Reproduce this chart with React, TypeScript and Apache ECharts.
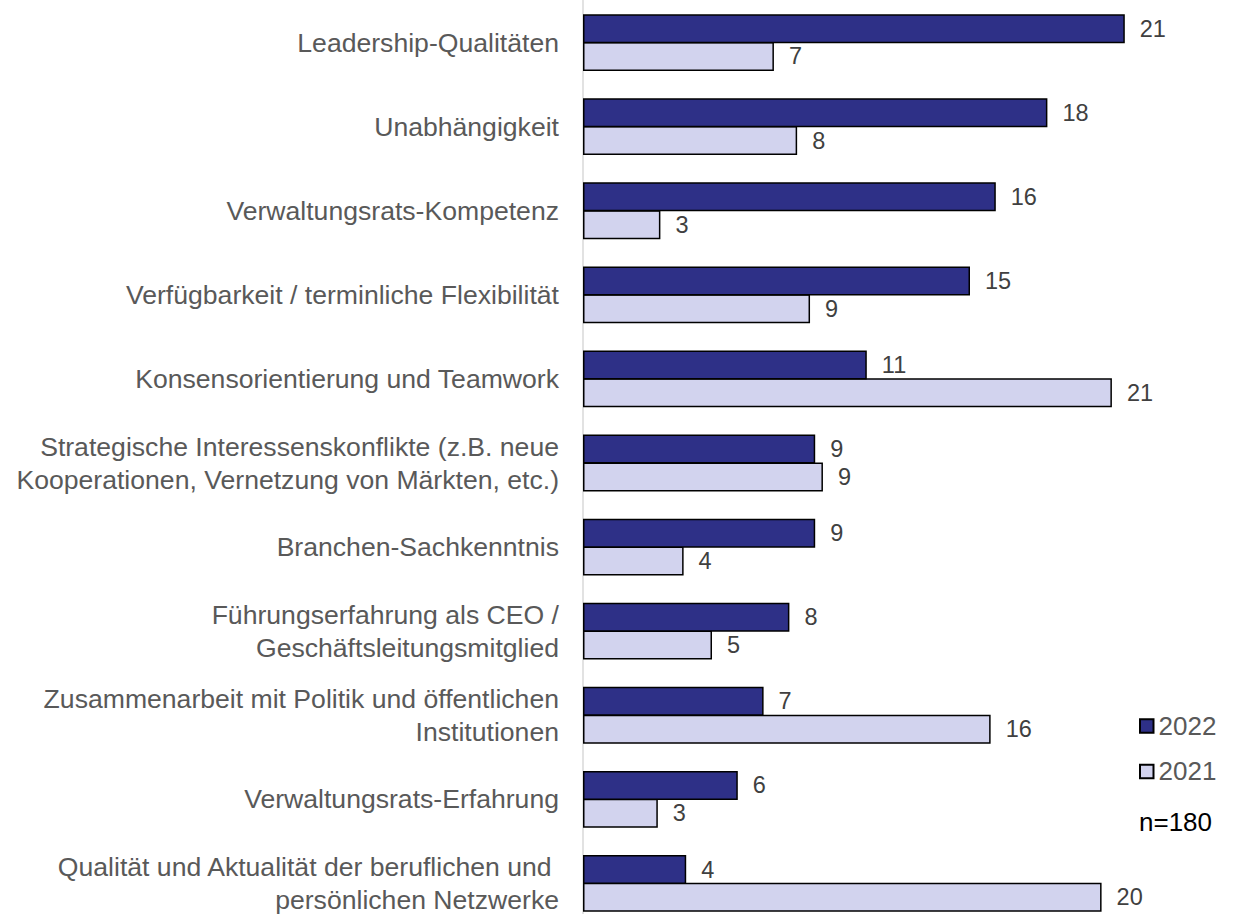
import React, { useEffect, useRef } from "react";
import * as echarts from "echarts";

const categories = [
  "Leadership-Qualitäten",
  "Unabhängigkeit",
  "Verwaltungsrats-Kompetenz",
  "Verfügbarkeit / terminliche Flexibilität",
  "Konsensorientierung und Teamwork",
  "Strategische Interessenskonflikte (z.B. neue\nKooperationen, Vernetzung von Märkten, etc.)",
  "Branchen-Sachkenntnis",
  "Führungserfahrung als CEO /\nGeschäftsleitungsmitglied",
  "Zusammenarbeit mit Politik und öffentlichen\nInstitutionen",
  "Verwaltungsrats-Erfahrung",
  "Qualität und Aktualität der beruflichen und \npersönlichen Netzwerke",
];
const values2022 = [21, 18, 16, 15, 11, 9, 9, 8, 7, 6, 4];
const values2021 = [7.4, 8.3, 3.0, 8.8, 20.5, 9.3, 3.9, 5.0, 15.8, 2.9, 20.1];
const seriesNames = ["2022", "2021"];
const noteText = "n=180";

export default function App() {
  const ref = useRef<HTMLDivElement>(null);
  useEffect(() => {
    if (!ref.current) return;
    const chart = echarts.init(ref.current, undefined, { renderer: "svg" });
    const fontFamily = "'Liberation Sans', Arial, sans-serif";
    const labelCfg = {
      show: true,
      position: "right" as const,
      distance: 15,
      fontSize: 23.5,
      color: "#404040",
      fontFamily,
      formatter: (p: any) => String(Math.round(p.value)),
    };
    chart.setOption({
      animation: false,
      textStyle: { fontFamily },
      grid: { left: 583, top: 0.5, width: 645, height: 925, containLabel: false },
      xAxis: {
        type: "value",
        min: 0,
        max: 25,
        show: false,
        splitLine: { show: false },
      },
      yAxis: {
        type: "category",
        data: categories,
        inverse: true,
        axisTick: { show: false },
        axisLine: { show: true, lineStyle: { color: "#D9D9D9", width: 1.5 } },
        axisLabel: {
          fontSize: 26.6,
          lineHeight: 33,
          color: "#595959",
          margin: 24,
          align: "right",
          fontFamily,
        },
      },
      legend: {
        orient: "vertical",
        left: 1139,
        top: 713,
        padding: 0,
        itemWidth: 13.5,
        itemHeight: 13.5,
        itemGap: 19.4,
        icon: "rect",
        data: seriesNames,
        textStyle: { fontSize: 26, lineHeight: 26, color: "#595959", fontFamily },
      },
      series: [
        {
          name: seriesNames[0],
          type: "bar",
          data: values2022,
          barWidth: 29,
          barGap: "-4%",
          z: 3,
          itemStyle: { color: "#2E3087", borderColor: "#000000", borderWidth: 1.5 },
          label: labelCfg,
        },
        {
          name: seriesNames[1],
          type: "bar",
          data: values2021,
          barWidth: 29,
          z: 2,
          itemStyle: { color: "#D2D3EE", borderColor: "#000000", borderWidth: 1.5 },
          label: labelCfg,
        },
      ],
      graphic: [
        {
          type: "text",
          left: 1139,
          top: 809,
          style: { text: noteText, fontSize: 26, fill: "#000000", fontFamily },
        },
      ],
    });
    return () => chart.dispose();
  }, []);
  return (
    <div style={{ position: "fixed", left: 0, top: 0, width: 1239, height: 914, overflow: "hidden", background: "#fff" }}>
      <div ref={ref} style={{ width: 1239, height: 940 }} />
    </div>
  );
}
